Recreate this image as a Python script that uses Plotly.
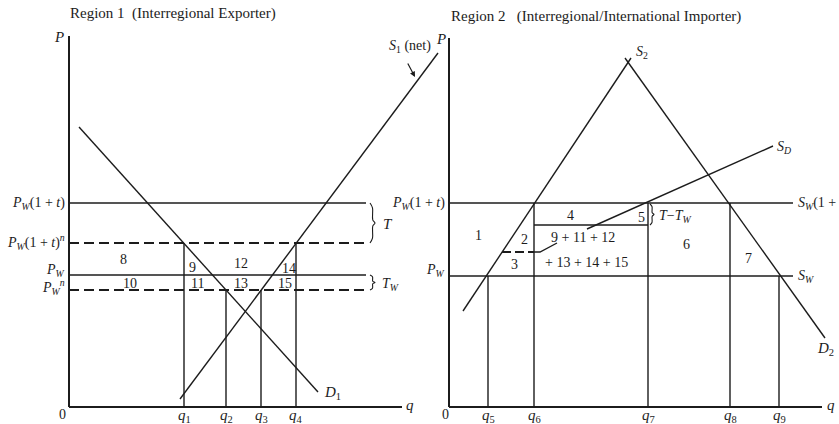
import plotly.graph_objects as go

# ---------------- data (schematic units, origin at each panel's 0) -------------
# Region 1 (left panel)
q_axis_max_1 = 333
p_axis_max = 371
price_names_1 = ["Pw(1+t)", "Pw(1+t)^n", "Pw", "Pw^n"]
price_levels_1 = [204, 164, 132, 117]
price_dashed_1 = [False, True, False, True]
price_line_end_1 = 297
q_marks_1 = [115, 157, 192, 227]
q_mark_tops_1 = [164, 117, 117, 164]
q_labels_1 = ["1", "2", "3", "4"]
D1_q = [10, 249]
D1_p = [280, 15]
S1_q = [111, 369]
S1_p = [8, 354]

# Region 2 (right panel)
q_axis_max_2 = 373
price_levels_2 = [204, 131]
price_line_end_2 = 344
q_marks_2 = [39, 85, 199, 281, 330]
q_mark_tops_2 = [131, 204, 204, 204, 131]
q_labels_2 = ["5", "6", "7", "8", "9"]
mid_line_q = [85, 199]
mid_line_p = 182
dash2_q = [53, 85]
dash2_p = 155
leader_q = [85, 91, 108]
leader_p = [155, 155, 164]
S2_q = [14, 182]
S2_p = [96, 349]
D2_q = [176, 376]
D2_p = [349, 69]
SD_q = [138, 324]
SD_p = [178, 261]

# area labels
area_labels_1 = [("8", 54, 148), ("9", 123, 140), ("12", 172, 144), ("14", 220, 139),
                 ("10", 61, 124), ("11", 128, 124), ("13", 172, 124), ("15", 216, 124)]
area_labels_2 = [("1", 29, 172), ("2", 75, 168), ("3", 65, 143), ("4", 121, 192),
                 ("5", 192, 190), ("6", 237, 163), ("7", 299, 149),
                 ("9 + 11 + 12", 134, 170), ("+ 13 + 14 + 15", 137, 145)]

# ---------------- figure ----------------
W, H = 839, 424
X1_OFF, X2_OFF, Y_OFF = 69, 449, 407
INK = "#1c1c1c"
FONT = "Liberation Serif"
FS = 14

fig = go.Figure()


def line(xs, ys, panel=1, dash=None, width=1.4, shape="linear"):
    fig.add_trace(go.Scatter(
        x=xs, y=ys, mode="lines", xaxis="x" if panel == 1 else "x2", yaxis="y",
        line=dict(color=INK, width=width, dash=dash, shape=shape),
        hoverinfo="skip", showlegend=False))


def brace(q, p_top, p_bot, panel, w=5):
    h = p_top - p_bot
    mid = (p_top + p_bot) / 2
    xs = [q, q + w * 0.5, q + w * 0.55, q + w, q + w * 0.55, q + w * 0.5, q]
    ys = [p_top, p_top - 0.12 * h, mid + 0.08 * h, mid, mid - 0.08 * h, p_bot + 0.12 * h, p_bot]
    line(xs, ys, panel, width=1.1, shape="spline")


def text(t, x, y, panel=1, size=FS, xanchor="center", yanchor="middle"):
    fig.add_annotation(text=t, x=x, y=y, xref="x" if panel == 1 else "x2", yref="y",
                       showarrow=False, xanchor=xanchor, yanchor=yanchor,
                       font=dict(family=FONT, size=size, color=INK))


# ---- Left panel
line([0, 0], [0, p_axis_max], 1, width=2)
line([0, q_axis_max_1], [0, 0], 1, width=2)
for lvl, dsh in zip(price_levels_1, price_dashed_1):
    line([0, price_line_end_1], [lvl, lvl], 1, dash="10px,5px" if dsh else None,
         width=2 if dsh else 1.4)
for qm, top in zip(q_marks_1, q_mark_tops_1):
    line([qm, qm], [0, top], 1)
line(D1_q, D1_p, 1)
line(S1_q, S1_p, 1)
brace(price_line_end_1 + 4, price_levels_1[0], price_levels_1[1], 1)
brace(price_line_end_1 + 4, price_levels_1[2], price_levels_1[3], 1)

# ---- Right panel
line([0, 0], [0, p_axis_max - 2], 2, width=2)
line([0, q_axis_max_2], [0, 0], 2, width=2)
for lvl in price_levels_2:
    line([0, price_line_end_2], [lvl, lvl], 2)
for qm, top in zip(q_marks_2, q_mark_tops_2):
    line([qm, qm], [0, top], 2)
line(mid_line_q, [mid_line_p, mid_line_p], 2)
line(dash2_q, [dash2_p, dash2_p], 2, dash="9px,4px", width=1.8)
line(leader_q, leader_p, 2)
line(S2_q, S2_p, 2)
line(D2_q, D2_p, 2)
line(SD_q, SD_p, 2)
brace(q_marks_2[2] + 2, price_levels_2[0] - 1, mid_line_p, 2, w=4)

# ---- Text, left panel
text("Region 1  (Interregional Exporter)", -1, 394, 1, xanchor="left", size=15)
text("<i>P</i>", -10, 370, 1, size=15)
text("<i>P<sub>W</sub></i>(1 + <i>t</i>)", -2, price_levels_1[0], 1, xanchor="right")
text("<i>P<sub>W</sub></i>(1 + <i>t</i>)<sup><i>n</i></sup>", -2, price_levels_1[1] + 1, 1, xanchor="right")
text("<i>P<sub>W</sub></i>", -2, price_levels_1[2] + 5, 1, xanchor="right")
text("<i>P<sub>W</sub><sup>n</sup></i>", -2, price_levels_1[3] + 3, 1, xanchor="right")
text("0", -7, -7, 1)
text("<i>q</i>", q_axis_max_1 + 8, 2, 1, size=15)
for qm, lab in zip(q_marks_1, q_labels_1):
    text(f"<i>q</i><sub>{lab}</sub>", qm, -9, 1, size=15)
for lab, x, y in area_labels_1:
    text(lab, x, y, 1)
text("<i>T</i>", 312, 183, 1, xanchor="left", size=15)
text("<i>T<sub>W</sub></i>", 311, 123, 1, xanchor="left")
text("<i>D</i><sub>1</sub>", 253, 14, 1, xanchor="left", size=15)
text("<i>S</i><sub>1</sub> (net)", 341, 361, 1)
fig.add_annotation(text="", x=346, y=330, xref="x", yref="y", ax=-8, ay=-15,
                   showarrow=True, arrowhead=2, arrowsize=0.9, arrowwidth=1.2,
                   arrowcolor=INK)

# ---- Text, right panel
text("Region 2   (Interregional/International Importer)", 0, 391, 2, xanchor="left", size=15)
text("<i>P</i>", -8, 368, 2, size=15)
text("<i>P<sub>W</sub></i>(1 + <i>t</i>)", -2, price_levels_2[0], 2, xanchor="right")
text("<i>P<sub>W</sub></i>", -2, price_levels_2[1] + 6, 2, xanchor="right")
text("0", -4, -7, 2)
text("<i>q</i>", q_axis_max_2 + 9, 2, 2, size=15)
for qm, lab in zip(q_marks_2, q_labels_2):
    text(f"<i>q</i><sub>{lab}</sub>", qm, -9, 2, size=15)
for lab, x, y in area_labels_2:
    text(lab, x, y, 2)
text("<i>S</i><sub>2</sub>", 185, 355, 2, xanchor="left")
text("<i>S<sub>D</sub></i>", 326, 260, 2, xanchor="left")
text("<i>S<sub>W</sub></i>(1 + <i>t</i>)", price_line_end_2 + 3, price_levels_2[0], 2, xanchor="left")
text("<i>S<sub>W</sub></i>", price_line_end_2 + 3, price_levels_2[1], 2, xanchor="left")
text("<i>T</i>−<i>T<sub>W</sub></i>", 208, 191, 2, xanchor="left")
text("<i>D</i><sub>2</sub>", 366, 58, 2, xanchor="left", size=15)

fig.update_layout(
    width=W, height=H, margin=dict(l=0, r=0, t=0, b=0),
    paper_bgcolor="white", plot_bgcolor="white", showlegend=False,
    xaxis=dict(range=[-X1_OFF, W - X1_OFF], visible=False, domain=[0, 1], fixedrange=True),
    xaxis2=dict(range=[-X2_OFF, W - X2_OFF], visible=False, overlaying="x", fixedrange=True),
    yaxis=dict(range=[Y_OFF - H, Y_OFF], visible=False, domain=[0, 1], fixedrange=True),
)

fig.write_html(
    "out.html",
    config={"displayModeBar": False},
    post_script="document.body.style.margin='0';document.body.style.overflow='hidden';",
)
